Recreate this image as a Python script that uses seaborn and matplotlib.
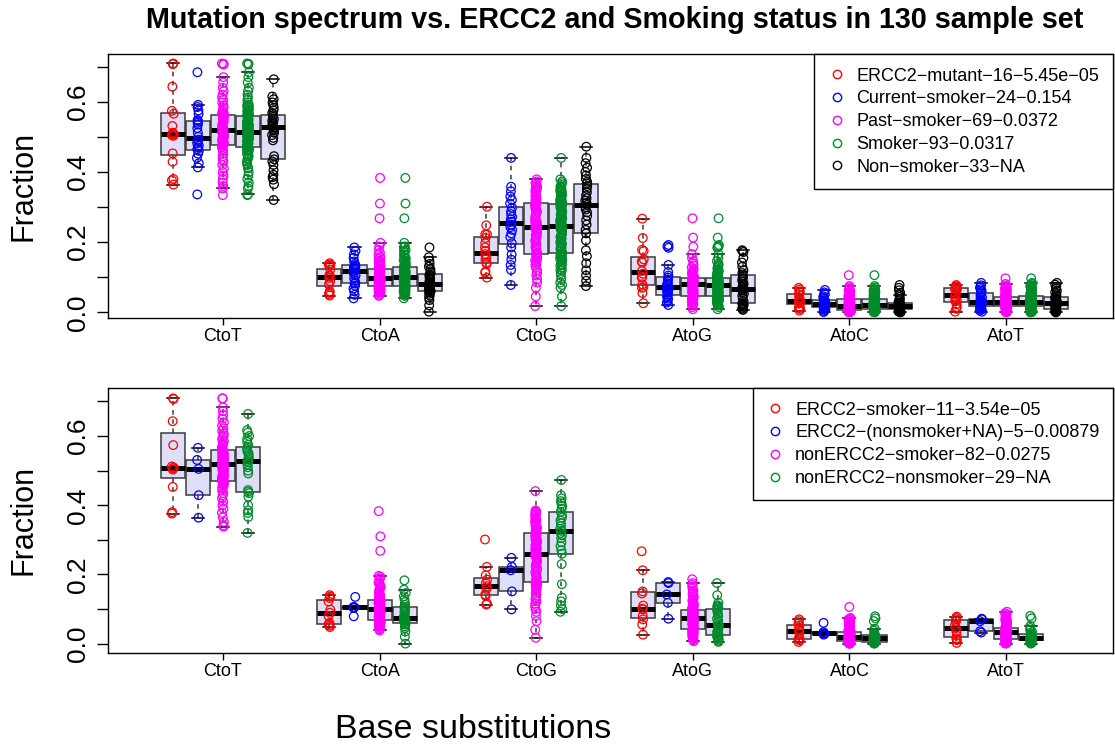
import warnings
import numpy as np
import pandas as pd
import matplotlib
matplotlib.use("Agg")
import matplotlib.pyplot as plt
from matplotlib.lines import Line2D
import seaborn as sns

warnings.filterwarnings("ignore")

# ---------------------------------------------------------------- data
substitutions = ["CtoT", "CtoA", "CtoG", "AtoG", "AtoC", "AtoT"]

# Current smokers (24)
cur_CtoT = [0.336,0.413,0.425,0.440,0.452,0.460,0.465,0.470,0.475,0.482,0.488,0.492,0.500,0.512,0.525,0.535,0.540,0.545,0.548,0.565,0.575,0.585,0.591,0.684]
cur_CtoA = [0.040,0.050,0.060,0.068,0.076,0.082,0.084,0.090,0.098,0.105,0.112,0.117,0.121,0.124,0.127,0.129,0.131,0.134,0.138,0.145,0.155,0.165,0.175,0.185]
cur_CtoG = [0.078,0.121,0.135,0.150,0.165,0.185,0.197,0.215,0.225,0.235,0.243,0.250,0.258,0.265,0.272,0.280,0.288,0.298,0.310,0.320,0.330,0.345,0.358,0.440]
cur_AtoG = [0.021,0.028,0.034,0.039,0.043,0.047,0.051,0.056,0.060,0.064,0.068,0.071,0.075,0.079,0.083,0.088,0.093,0.099,0.105,0.115,0.135,0.184,0.188,0.192]
cur_AtoC = [0.001,0.004,0.007,0.009,0.011,0.013,0.015,0.017,0.019,0.020,0.022,0.023,0.025,0.027,0.029,0.031,0.033,0.034,0.038,0.042,0.046,0.051,0.057,0.064]
cur_AtoT = [0.002,0.005,0.008,0.011,0.014,0.017,0.020,0.022,0.024,0.026,0.028,0.029,0.031,0.034,0.038,0.043,0.048,0.053,0.057,0.061,0.066,0.071,0.077,0.084]

# Past smokers (69)
past_CtoT = [0.334,0.353,0.360,0.370,0.380,0.390,0.400,0.410,0.420,0.430,0.437,0.445,0.452,0.460,0.465,0.470,0.474,
             0.477,
             0.479,0.481,0.483,0.485,0.488,0.491,0.494,0.497,0.500,0.502,0.505,0.507,0.510,0.512,0.515,0.518,
             0.520,
             0.522,0.524,0.526,0.528,0.531,0.534,0.537,0.540,0.542,0.545,0.547,0.550,0.552,0.555,0.558,0.560,
             0.563,
             0.565,0.568,0.572,0.578,0.584,0.590,0.598,0.605,0.612,0.620,0.630,0.640,0.655,0.670,0.706,0.708,0.709]
past_CtoA = [0.047,0.050,0.053,0.056,0.058,0.060,0.062,0.064,0.066,0.067,0.068,0.069,0.070,0.071,0.072,0.073,0.074,
             0.075,
             0.076,0.077,0.078,0.080,0.081,0.082,0.084,0.085,0.087,0.088,0.089,0.091,0.092,0.094,0.095,0.096,
             0.097,
             0.099,0.100,0.102,0.103,0.105,0.107,0.108,0.110,0.112,0.113,0.115,0.117,0.118,0.120,0.122,0.123,
             0.125,
             0.127,0.130,0.133,0.136,0.140,0.144,0.148,0.153,0.158,0.164,0.170,0.178,0.188,0.198,0.268,0.310,0.383]
past_CtoG = [0.018,0.045,0.070,0.085,0.095,0.105,0.112,0.120,0.127,0.133,0.138,0.143,0.148,0.152,0.156,0.160,0.163,
             0.166,
             0.170,0.175,0.180,0.185,0.190,0.195,0.200,0.205,0.210,0.215,0.220,0.225,0.229,0.233,0.236,0.239,
             0.242,
             0.246,0.250,0.254,0.258,0.262,0.267,0.272,0.277,0.282,0.287,0.292,0.296,0.300,0.303,0.306,0.309,
             0.311,
             0.314,0.317,0.320,0.323,0.326,0.330,0.334,0.338,0.342,0.346,0.350,0.354,0.358,0.363,0.368,0.373,0.379]
past_AtoG = [0.009,0.015,0.020,0.024,0.027,0.030,0.032,0.034,0.036,0.038,0.039,0.040,0.041,0.042,0.043,0.044,0.045,
             0.046,
             0.048,0.050,0.052,0.054,0.056,0.058,0.060,0.062,0.064,0.066,0.068,0.070,0.072,0.074,0.076,0.078,
             0.080,
             0.081,0.082,0.083,0.084,0.085,0.086,0.087,0.088,0.089,0.090,0.091,0.092,0.093,0.095,0.096,0.097,
             0.099,
             0.101,0.103,0.106,0.109,0.112,0.115,0.119,0.123,0.128,0.133,0.139,0.146,0.155,0.166,0.187,0.213,0.268]
past_AtoC = [0.000,0.001,0.001,0.002,0.002,0.003,0.003,0.004,0.004,0.005,0.005,0.005,0.006,0.006,0.006,0.007,0.007,
             0.007,
             0.008,0.009,0.009,0.010,0.011,0.011,0.012,0.013,0.013,0.014,0.015,0.015,0.016,0.016,0.017,0.017,
             0.018,
             0.019,0.020,0.021,0.022,0.023,0.024,0.025,0.026,0.027,0.028,0.029,0.030,0.031,0.033,0.034,0.035,
             0.037,
             0.038,0.040,0.041,0.043,0.045,0.047,0.049,0.051,0.053,0.055,0.058,0.061,0.064,0.067,0.071,0.075,0.106]
past_AtoT = [0.000,0.001,0.002,0.003,0.004,0.005,0.006,0.007,0.008,0.009,0.010,0.011,0.012,0.013,0.014,0.015,0.016,
             0.017,
             0.018,0.019,0.020,0.021,0.022,0.022,0.023,0.024,0.025,0.025,0.026,0.027,0.027,0.028,0.029,0.029,
             0.030,
             0.031,0.031,0.032,0.033,0.033,0.034,0.035,0.035,0.036,0.037,0.038,0.039,0.040,0.041,0.042,0.043,
             0.044,
             0.045,0.047,0.049,0.051,0.053,0.055,0.057,0.059,0.061,0.063,0.065,0.068,0.071,0.074,0.077,0.081,0.097]

# Non-smokers (33)
non_CtoT = [0.320,0.365,0.378,0.385,0.392,0.405,0.420,0.430,0.436,0.445,0.490,0.497,0.505,0.512,0.518,0.523,0.527,
            0.530,0.533,0.537,0.541,0.546,0.551,0.557,0.562,0.568,0.575,0.582,0.590,0.598,0.607,0.615,0.664]
non_CtoA = [0.002,0.020,0.035,0.042,0.048,0.053,0.057,0.060,0.062,0.064,0.066,0.069,0.071,0.074,0.076,0.078,0.080,
            0.083,0.086,0.089,0.093,0.097,0.101,0.105,0.108,0.112,0.117,0.123,0.130,0.138,0.147,0.157,0.185]
non_CtoG = [0.075,0.090,0.105,0.120,0.140,0.160,0.177,0.205,0.225,0.235,0.250,0.262,0.275,0.285,0.293,0.300,0.306,
            0.312,0.318,0.325,0.333,0.342,0.352,0.360,0.367,0.372,0.380,0.390,0.400,0.412,0.425,0.440,0.472]
non_AtoG = [0.007,0.010,0.013,0.016,0.019,0.021,0.023,0.025,0.026,0.032,0.040,0.047,0.053,0.058,0.062,0.065,0.068,
            0.072,0.077,0.082,0.087,0.092,0.097,0.102,0.106,0.112,0.120,0.130,0.142,0.155,0.172,0.175,0.177]
non_AtoC = [0.000,0.001,0.002,0.003,0.004,0.005,0.007,0.008,0.009,0.010,0.011,0.012,0.013,0.014,0.015,0.017,0.018,
            0.019,0.020,0.021,0.022,0.023,0.024,0.026,0.027,0.032,0.038,0.044,0.050,0.056,0.063,0.070,0.078]
non_AtoT = [0.000,0.002,0.003,0.005,0.006,0.008,0.009,0.010,0.011,0.013,0.015,0.017,0.019,0.021,0.023,0.025,0.027,
            0.029,0.031,0.033,0.035,0.037,0.039,0.041,0.043,0.047,0.052,0.057,0.062,0.068,0.073,0.079,0.084]

# ERCC2-mutant smokers (11)
esmk_CtoT = [0.376,0.380,0.453,0.503,0.507,0.509,0.512,0.574,0.643,0.707,0.709]
esmk_CtoA = [0.048,0.052,0.056,0.060,0.080,0.089,0.098,0.122,0.132,0.136,0.140]
esmk_CtoG = [0.113,0.116,0.138,0.142,0.158,0.166,0.175,0.185,0.197,0.222,0.301]
esmk_AtoG = [0.026,0.055,0.070,0.080,0.099,0.101,0.110,0.145,0.151,0.212,0.267]
esmk_AtoC = [0.005,0.010,0.012,0.016,0.030,0.037,0.042,0.052,0.058,0.065,0.070]
esmk_AtoT = [0.002,0.010,0.015,0.023,0.035,0.045,0.052,0.064,0.070,0.074,0.078]

# ERCC2-mutant non-smokers + NA (5)
enon_CtoT = [0.364,0.429,0.505,0.531,0.566]
enon_CtoA = [0.079,0.103,0.105,0.106,0.135]
enon_CtoG = [0.099,0.151,0.212,0.222,0.248]
enon_AtoG = [0.072,0.118,0.142,0.175,0.178]
enon_AtoC = [0.026,0.028,0.030,0.033,0.060]
enon_AtoT = [0.032,0.036,0.065,0.070,0.072]

# non-ERCC2 smokers (82)
nesmk_CtoT = [0.338,0.342,0.352,0.365,0.378,0.390,0.400,0.410,0.420,0.428,0.435,0.442,0.448,0.453,0.457,0.460,0.463,0.465,0.467,0.469,
              0.470,0.471,
              0.473,0.476,0.479,0.482,0.485,0.488,0.491,0.494,0.497,0.500,0.503,0.506,0.509,0.511,0.513,0.515,0.517,0.518,
              0.519,0.520,
              0.522,0.524,0.526,0.528,0.530,0.532,0.534,0.536,0.538,0.540,0.542,0.544,0.546,0.548,0.550,0.552,0.554,0.556,
              0.558,0.560,
              0.563,0.567,0.571,0.575,0.580,0.585,0.590,0.596,0.602,0.608,0.615,0.622,0.630,0.640,0.650,0.660,0.672,0.683,0.709,0.709]
nesmk_CtoA = [0.038,0.042,0.045,0.048,0.050,0.052,0.054,0.056,0.057,0.058,0.059,0.060,0.061,0.062,0.063,0.064,0.065,0.065,0.066,0.066,
              0.067,0.068,
              0.069,0.071,0.073,0.074,0.076,0.078,0.080,0.082,0.084,0.086,0.088,0.090,0.092,0.094,0.096,0.097,0.098,0.099,
              0.100,0.102,
              0.103,0.104,0.105,0.106,0.108,0.109,0.110,0.111,0.113,0.114,0.115,0.117,0.118,0.119,0.121,0.122,0.124,0.125,
              0.126,0.128,
              0.130,0.133,0.136,0.139,0.142,0.145,0.149,0.153,0.157,0.161,0.166,0.171,0.176,0.182,0.188,0.193,0.196,0.268,0.310,0.383]
nesmk_CtoG = [0.017,0.040,0.065,0.080,0.092,0.100,0.108,0.115,0.122,0.128,0.134,0.140,0.145,0.150,0.155,0.159,0.163,0.167,0.171,0.174,
              0.177,0.178,
              0.182,0.187,0.192,0.197,0.202,0.207,0.212,0.217,0.222,0.227,0.232,0.236,0.240,0.244,0.248,0.251,0.254,0.256,
              0.257,0.259,
              0.262,0.265,0.268,0.271,0.274,0.277,0.280,0.283,0.286,0.289,0.292,0.295,0.298,0.301,0.304,0.307,0.310,0.313,
              0.316,0.320,
              0.323,0.326,0.330,0.334,0.338,0.342,0.346,0.350,0.354,0.358,0.362,0.366,0.370,0.374,0.377,0.379,0.381,0.383,0.385,0.441]
nesmk_AtoG = [0.007,0.010,0.013,0.016,0.019,0.021,0.023,0.025,0.027,0.029,0.031,0.032,0.033,0.034,0.035,0.036,0.037,0.038,0.039,0.040,
              0.041,0.042,
              0.044,0.046,0.048,0.050,0.052,0.054,0.056,0.058,0.060,0.062,0.064,0.065,0.066,0.067,0.068,0.069,0.070,0.071,
              0.072,0.074,
              0.075,0.076,0.077,0.078,0.079,0.080,0.081,0.082,0.083,0.084,0.085,0.086,0.087,0.088,0.089,0.090,0.091,0.093,
              0.095,0.097,
              0.099,0.101,0.104,0.107,0.110,0.113,0.116,0.120,0.124,0.128,0.132,0.137,0.142,0.147,0.153,0.159,0.165,0.170,0.175,0.186]
nesmk_AtoC = [0.000,0.000,0.001,0.001,0.002,0.002,0.003,0.003,0.004,0.004,0.005,0.005,0.005,0.006,0.006,0.006,0.007,0.007,0.007,0.008,
              0.008,0.008,
              0.009,0.010,0.010,0.011,0.012,0.012,0.013,0.013,0.014,0.014,0.015,0.015,0.016,0.016,0.017,0.017,0.018,0.018,
              0.019,0.019,
              0.020,0.021,0.022,0.022,0.023,0.024,0.025,0.025,0.026,0.027,0.028,0.029,0.030,0.031,0.031,0.032,0.033,0.034,
              0.035,0.035,
              0.036,0.038,0.039,0.041,0.042,0.044,0.046,0.048,0.050,0.052,0.054,0.056,0.058,0.061,0.064,0.067,0.070,0.072,0.074,0.106]
nesmk_AtoT = [0.000,0.001,0.001,0.002,0.002,0.003,0.003,0.004,0.004,0.005,0.005,0.006,0.006,0.007,0.008,0.008,0.009,0.010,0.010,0.011,
              0.012,0.012,
              0.013,0.014,0.015,0.016,0.017,0.018,0.019,0.020,0.021,0.022,0.023,0.024,0.025,0.026,0.028,0.029,0.030,0.032,
              0.033,0.035,
              0.035,0.036,0.036,0.037,0.037,0.038,0.038,0.039,0.039,0.040,0.040,0.041,0.041,0.042,0.042,0.043,0.043,0.044,
              0.045,0.045,
              0.046,0.048,0.050,0.052,0.054,0.056,0.058,0.060,0.062,0.064,0.066,0.068,0.070,0.072,0.075,0.078,0.081,0.085,0.088,0.092]

# non-ERCC2 non-smokers (29)
nenon_CtoT = [0.320,0.366,0.378,0.385,0.400,0.425,0.435,0.439,0.444,0.492,0.500,0.510,0.518,0.524,0.528,
              0.532,0.537,0.543,0.550,0.556,0.563,0.569,0.575,0.583,0.592,0.600,0.610,0.617,0.664]
nenon_CtoA = [0.000,0.020,0.035,0.045,0.050,0.055,0.058,0.061,0.063,0.065,0.067,0.069,0.071,0.073,0.075,
              0.078,0.082,0.087,0.092,0.097,0.102,0.106,0.112,0.120,0.128,0.137,0.146,0.156,0.183]
nenon_CtoG = [0.092,0.100,0.110,0.122,0.133,0.172,0.230,0.260,0.270,0.282,0.293,0.305,0.313,0.320,0.326,
              0.332,0.340,0.348,0.356,0.364,0.372,0.381,0.390,0.398,0.405,0.412,0.420,0.429,0.473]
nenon_AtoG = [0.005,0.008,0.011,0.014,0.017,0.020,0.022,0.024,0.028,0.033,0.038,0.043,0.048,0.052,0.055,
              0.060,0.066,0.072,0.080,0.087,0.094,0.099,0.102,0.105,0.108,0.111,0.118,0.140,0.175]
nenon_AtoC = [0.000,0.001,0.001,0.002,0.003,0.004,0.004,0.005,0.006,0.008,0.009,0.011,0.012,0.014,0.015,
              0.016,0.017,0.019,0.020,0.021,0.023,0.024,0.027,0.031,0.037,0.043,0.065,0.073,0.079]
nenon_AtoT = [0.000,0.002,0.003,0.005,0.006,0.008,0.009,0.010,0.011,0.012,0.013,0.014,0.015,0.016,0.017,
              0.018,0.019,0.021,0.022,0.024,0.025,0.027,0.030,0.034,0.039,0.045,0.051,0.073,0.080]

top_groups = ["ERCC2-mutant", "Current-smoker", "Past-smoker", "Smoker", "Non-smoker"]
top_labels = ["ERCC2\u2212mutant\u221216\u22125.45e\u221205",
              "Current\u2212smoker\u221224\u22120.154",
              "Past\u2212smoker\u221269\u22120.0372",
              "Smoker\u221293\u22120.0317",
              "Non\u2212smoker\u221233\u2212NA"]
top_colors = ["#FF0000", "#0000FF", "#FF00FF", "#008B2A", "#000000"]

bottom_groups = ["ERCC2-smoker", "ERCC2-(nonsmoker+NA)", "nonERCC2-smoker", "nonERCC2-nonsmoker"]
bottom_labels = ["ERCC2\u2212smoker\u221211\u22123.54e\u221205",
                 "ERCC2\u2212(nonsmoker+NA)\u22125\u22120.00879",
                 "nonERCC2\u2212smoker\u221282\u22120.0275",
                 "nonERCC2\u2212nonsmoker\u221229\u2212NA"]
bottom_colors = ["#FF0000", "#0000FF", "#FF00FF", "#008B2A"]

ytick_values = [0.0, 0.1, 0.2, 0.3, 0.4, 0.5, 0.6, 0.7]
ytick_labels = ["0.0", "", "0.2", "", "0.4", "", "0.6", ""]

title_text = "Mutation spectrum vs. ERCC2 and Smoking status in 130 sample set"
xlabel_text = "Base substitutions"
ylabel_text = "Fraction"

# ---------------------------------------------------------------- assemble
cur = [cur_CtoT, cur_CtoA, cur_CtoG, cur_AtoG, cur_AtoC, cur_AtoT]
past = [past_CtoT, past_CtoA, past_CtoG, past_AtoG, past_AtoC, past_AtoT]
non = [non_CtoT, non_CtoA, non_CtoG, non_AtoG, non_AtoC, non_AtoT]
esmk = [esmk_CtoT, esmk_CtoA, esmk_CtoG, esmk_AtoG, esmk_AtoC, esmk_AtoT]
enon = [enon_CtoT, enon_CtoA, enon_CtoG, enon_AtoG, enon_AtoC, enon_AtoT]
nesmk = [nesmk_CtoT, nesmk_CtoA, nesmk_CtoG, nesmk_AtoG, nesmk_AtoC, nesmk_AtoT]
nenon = [nenon_CtoT, nenon_CtoA, nenon_CtoG, nenon_AtoG, nenon_AtoC, nenon_AtoT]

ercc2_all = [a + b for a, b in zip(esmk, enon)]      # ERCC2 mutants = smokers + non-smokers
smoker_all = [a + b for a, b in zip(cur, past)]      # smokers = current + past


def long_frame(names, series):
    rows = []
    for name, per_sub in zip(names, series):
        for sub, vals in zip(substitutions, per_sub):
            for v in vals:
                rows.append((sub, name, v))
    return pd.DataFrame(rows, columns=["substitution", "group", "fraction"])


top_df = long_frame(top_groups, [ercc2_all, cur, past, smoker_all, non])
bottom_df = long_frame(bottom_groups, [esmk, enon, nesmk, nenon])

# ---------------------------------------------------------------- style
plt.rcParams["font.family"] = ["Liberation Sans", "DejaVu Sans"]
plt.rcParams["axes.linewidth"] = 1.0

BOX_FILL = "#DEDEF8"
W, H = 1115, 747
fig = plt.figure(figsize=(W / 100, H / 100), dpi=100)

ax_top = fig.add_axes([108 / W, 1 - 318 / H, (1113 - 108) / W, (318 - 54) / H])
ax_bot = fig.add_axes([108 / W, 1 - 653.3 / H, (1113 - 108) / W, (653.3 - 388) / H])

np.random.seed(7)  # fixed horizontal jitter only


def draw_panel(ax, df, groups, colors, labels, ylim):
    hue_order = list(groups)
    if len(hue_order) < 5:
        hue_order = hue_order + ["_pad"]
    box_pal = {g: BOX_FILL for g in hue_order}
    sns.boxplot(data=df, x="substitution", y="fraction", hue="group",
                order=substitutions, hue_order=hue_order, palette=box_pal,
                saturation=1, width=0.8, gap=0.04, dodge=True, whis=1.5,
                showfliers=False, linecolor="#3A3A3A", linewidth=1.1,
                medianprops=dict(color="black", linewidth=3.6),
                whiskerprops=dict(color="#3A3A3A", linestyle=(0, (3, 3))),
                capprops=dict(color="black", linewidth=1.1),
                legend=False, ax=ax)
    pt_pal = dict(zip(groups, colors))
    pt_pal["_pad"] = "#FFFFFF"
    n0 = len(ax.collections)
    sns.stripplot(data=df, x="substitution", y="fraction", hue="group",
                  order=substitutions, hue_order=hue_order, palette=pt_pal,
                  dodge=True, jitter=0.034, size=6.2, legend=False, ax=ax, zorder=4)
    for coll in ax.collections[n0:]:
        fc = coll.get_facecolors()
        coll.set_edgecolors(fc)
        coll.set_facecolors("none")
        coll.set_linewidths(0.9)

    ax.set_xlim(-0.734, 5.683)
    ax.set_ylim(*ylim)
    ax.set_yticks(ytick_values)
    ax.set_yticklabels(ytick_labels, rotation=90, va="center", fontsize=19)
    ax.set_xticks(range(len(substitutions)))
    ax.set_xticklabels(substitutions, fontsize=13)
    ax.tick_params(axis="y", direction="out", length=8, width=1, pad=5, colors="black")
    ax.tick_params(axis="x", direction="out", length=5, width=1, pad=2, colors="black")
    ax.set_xlabel("")
    ax.set_ylabel("")
    for s in ax.spines.values():
        s.set_visible(True)
        s.set_color("black")
        s.set_linewidth(1.0)
    ax.set_facecolor("white")

    handles = [Line2D([], [], marker="o", linestyle="none", markerfacecolor="none",
                      markeredgecolor=c, markersize=6, markeredgewidth=1.0) for c in colors]
    leg = ax.legend(handles, labels, loc="upper right", bbox_to_anchor=(1.0, 1.0),
                    borderaxespad=0.0, frameon=True, fancybox=False, framealpha=1,
                    edgecolor="black", fontsize=13, handlelength=1.0,
                    handletextpad=0.6, labelspacing=0.32, borderpad=0.75)
    leg.get_frame().set_linewidth(1.0)
    leg.set_zorder(10)


draw_panel(ax_top, top_df, top_groups, top_colors, top_labels, (-0.016, 0.736))
draw_panel(ax_bot, bottom_df, bottom_groups, bottom_colors, bottom_labels, (-0.028, 0.739))

fig.text(615 / W, 1 - 20 / H, title_text, ha="center", va="center",
         fontsize=20.7, fontweight="bold")
fig.text(473 / W, 1 - 730 / H, xlabel_text, ha="center", va="center", fontsize=24.5)
fig.text(24 / W, 1 - 186 / H, ylabel_text, ha="center", va="center", rotation=90, fontsize=22)
fig.text(24 / W, 1 - 520 / H, ylabel_text, ha="center", va="center", rotation=90, fontsize=22)

fig.savefig("out.png", dpi=100, facecolor="white")
